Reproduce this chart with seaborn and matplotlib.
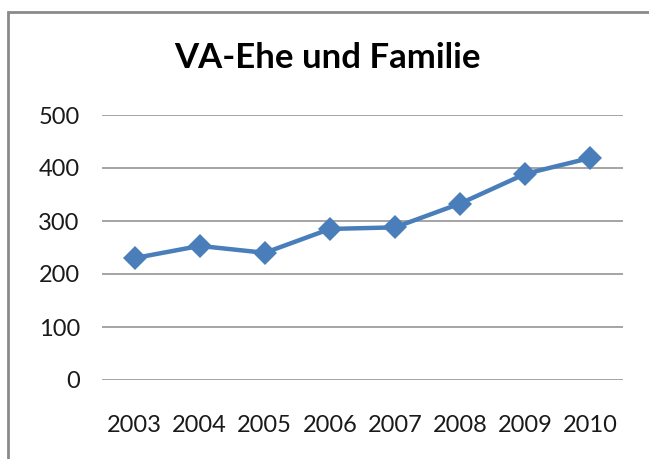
import matplotlib
matplotlib.use("Agg")
import matplotlib.pyplot as plt
import seaborn as sns
import pandas as pd
from matplotlib.patches import Rectangle

years = ["2003", "2004", "2005", "2006", "2007", "2008", "2009", "2010"]
values = [230, 253, 240, 285, 288, 333, 389, 419]
yticks = [0, 100, 200, 300, 400, 500]
title = "VA-Ehe und Familie"

sns.set_style("white")
plt.rcParams["font.family"] = ["Lato", "DejaVu Sans"]

W, H = 649, 459
fig = plt.figure(figsize=(W / 100, H / 100), dpi=100)
ax = fig.add_axes([102 / W, (H - 380) / H, 521 / W, 265 / H])

df = pd.DataFrame({"Jahr": years, "Wert": values})
sns.lineplot(data=df, x="Jahr", y="Wert", ax=ax, color="#4A7EBB", linewidth=3.2,
             marker="D", markersize=12, markeredgewidth=0, sort=False)

ax.set_xlim(-0.5, 7.5)
ax.set_ylim(0, 500)
ax.set_yticks(yticks)
ax.set_yticklabels([str(t) for t in yticks])
ax.set_xlabel("")
ax.set_ylabel("")
for s in ax.spines.values():
    s.set_visible(False)
ax.grid(axis="y", color="#8C8C8C", linewidth=1.1)
ax.grid(axis="x", visible=False)
ax.set_axisbelow(True)
ax.tick_params(axis="y", length=0, pad=16, labelsize=17, labelcolor="#1A1A1A")
ax.tick_params(axis="x", length=0, pad=25, labelsize=17, labelcolor="#1A1A1A")

fig.text(327 / W, 1 - 57.5 / H, title, ha="center", va="center",
         fontsize=25, fontweight="bold", color="black")

fig.patches.append(Rectangle((7.5 / W, -0.1), 1.2, 1 - 12.5 / H + 0.1,
                             transform=fig.transFigure, fill=False,
                             edgecolor="#8A8A8A", linewidth=2))

fig.savefig("out.png", dpi=100)
